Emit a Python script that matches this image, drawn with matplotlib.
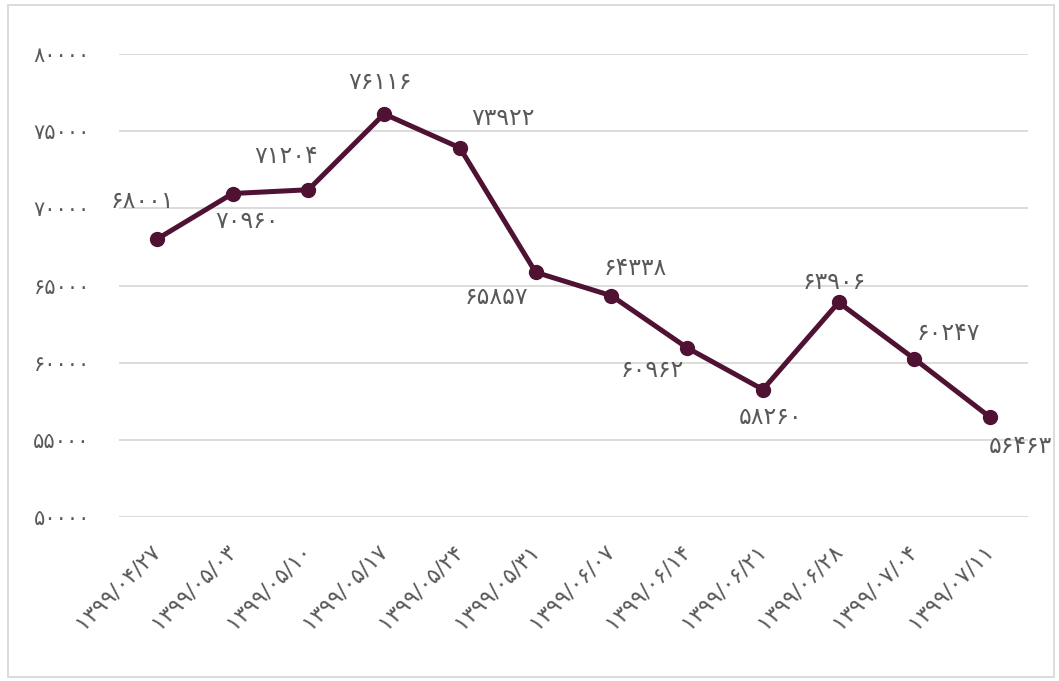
import numpy as np
import matplotlib.pyplot as plt
from matplotlib.patches import Rectangle

plt.rcParams['font.family'] = ['DejaVu Sans']

FA = str.maketrans('0123456789', '۰۱۲۳۴۵۶۷۸۹')

dates = ['1399/04/27', '1399/05/03', '1399/05/10', '1399/05/17', '1399/05/24', '1399/05/31',
         '1399/06/07', '1399/06/14', '1399/06/21', '1399/06/28', '1399/07/04', '1399/07/11']
values = [68001, 70960, 71204, 76116, 73922, 65857, 64338, 60962, 58260, 63906, 60247, 56463]
y_ticks = [50000, 55000, 60000, 65000, 70000, 75000, 80000]

# label offsets in pixels (dx, dy), y up
label_offsets = [(-14, 38), (14, -27), (-22, 34), (-4, 32), (43, 30), (-39, -25),
                 (24, 28), (-35, -22), (8, -27), (-4, 20), (34, 26), (30, -29)]

line_color = '#4F1233'
text_color = '#595959'

fig = plt.figure(figsize=(10.59, 6.81), dpi=100)
ax = fig.add_axes([119/1059, 1-517/681, (1028-119)/1059, (517-54)/681])

x = np.arange(len(values))
ax.plot(x, values, color=line_color, lw=3.6, marker='o', markersize=10, zorder=3,
        solid_capstyle='round')

for xi, v, (dx, dy) in zip(x, values, label_offsets):
    ax.annotate(str(v).translate(FA), (xi, v), xytext=(dx*0.72, dy*0.72),
                textcoords='offset points', ha='center', va='center',
                fontsize=17, color=text_color)

ax.set_xlim(-0.5, len(values)-0.5)
ax.set_ylim(50000, 80000)
ax.set_yticks(y_ticks)
ax.set_yticklabels([str(t).translate(FA) for t in y_ticks], fontsize=15, color=text_color)
ax.set_xticks(x)
ax.set_xticklabels([d.translate(FA) for d in dates], rotation=45, ha='right',
                   va='center', rotation_mode='anchor', fontsize=16, color=text_color)
ax.tick_params(axis='y', length=0, pad=21)
ax.tick_params(axis='x', length=0, pad=22)
for s in ax.spines.values():
    s.set_visible(False)
ax.grid(axis='y', color='#D9D9D9', lw=1.3)
ax.set_axisbelow(True)

fig.patches.append(Rectangle((8/1059, 4/681), 1046/1059, 672/681, transform=fig.transFigure,
                             fill=False, edgecolor='#D9D9D9', lw=1.3))

fig.savefig('out.png', dpi=100)
